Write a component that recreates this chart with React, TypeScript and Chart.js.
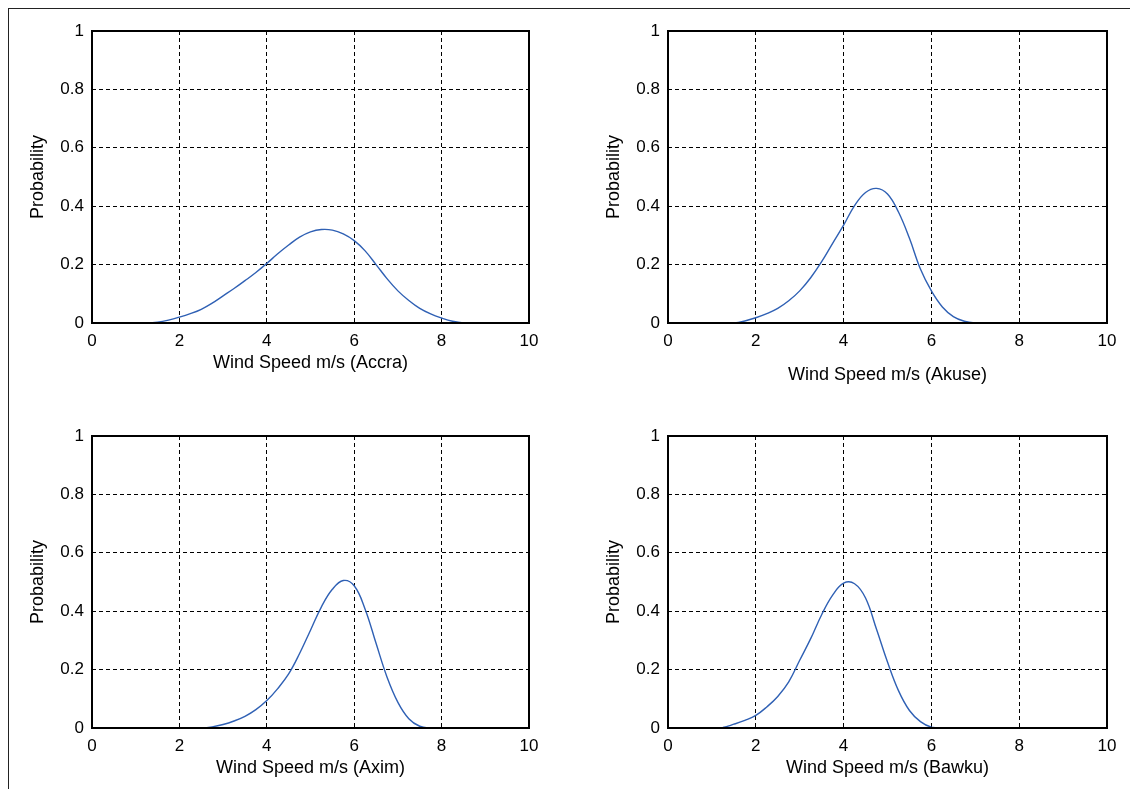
import React, { useEffect, useRef } from "react";
import { Chart, registerables } from "chart.js";

Chart.register(...registerables);

const windSpeed = [
  0, 0.25, 0.5, 0.75, 1, 1.25, 1.5, 1.75, 2, 2.25, 2.5, 2.75, 3, 3.25, 3.5, 3.75, 4, 4.25, 4.5, 4.75,
  5, 5.25, 5.5, 5.75, 6, 6.25, 6.5, 6.75, 7, 7.25, 7.5, 7.75, 8, 8.25, 8.5, 8.75, 9, 9.25, 9.5, 9.75, 10,
];

const accra = [
  0, 0, 0, 0, 0, 0, 0.003, 0.01, 0.02, 0.032, 0.047, 0.068, 0.093, 0.118, 0.145, 0.173, 0.204, 0.237, 0.267, 0.294,
  0.312, 0.32, 0.318, 0.305, 0.282, 0.247, 0.2, 0.152, 0.11, 0.077, 0.05, 0.031, 0.017, 0.006, 0, 0, 0, 0, 0, 0, 0,
];

const akuse = [
  0, 0, 0, 0, 0, 0, 0, 0.007, 0.018, 0.032, 0.05, 0.076, 0.11, 0.155, 0.21, 0.273, 0.335, 0.402, 0.447, 0.461,
  0.442, 0.38, 0.29, 0.185, 0.11, 0.055, 0.022, 0.006, 0, 0, 0, 0, 0, 0, 0, 0, 0, 0, 0, 0, 0,
];

const axim = [
  0, 0, 0, 0, 0, 0, 0, 0, 0, 0, 0, 0.004, 0.012, 0.024, 0.04, 0.063, 0.094, 0.135, 0.185, 0.255,
  0.335, 0.415, 0.475, 0.505, 0.487, 0.407, 0.29, 0.175, 0.088, 0.032, 0.006, 0, 0, 0, 0, 0, 0, 0, 0, 0, 0,
];

const bawku = [
  0, 0, 0, 0, 0, 0.002, 0.013, 0.026, 0.043, 0.072, 0.108, 0.158, 0.232, 0.306, 0.388, 0.455, 0.496, 0.494, 0.445, 0.338,
  0.226, 0.128, 0.06, 0.022, 0.003, 0, 0, 0, 0, 0, 0, 0, 0, 0, 0, 0, 0, 0, 0, 0, 0,
];

const xTicks = [0, 2, 4, 6, 8, 10];
const yTicks = [0, 0.2, 0.4, 0.6, 0.8, 1];
const stations = ["Accra", "Akuse", "Axim", "Bawku"];
const yTitle = "Probability";
const xTitlePrefix = "Wind Speed m/s";

const FONT = "'Liberation Sans', Arial, sans-serif";
const LINE_COLOR = "#2f60b4";

const framePlugin = {
  id: "frame",
  afterDatasetsDraw(chart: any) {
    const { ctx, chartArea } = chart;
    ctx.save();
    ctx.strokeStyle = "#000";
    ctx.lineWidth = 2;
    ctx.setLineDash([]);
    ctx.strokeRect(chartArea.left, chartArea.top, chartArea.right - chartArea.left, chartArea.bottom - chartArea.top);
    ctx.restore();
  },
};

type PanelProps = {
  values: number[];
  station: string;
  left: number;
  top: number;
  width: number;
  height: number;
  padRight: number;
  titlePadBottom: number;
};

function Panel({ values, station, left, top, width, height, padRight, titlePadBottom }: PanelProps) {
  const ref = useRef<HTMLCanvasElement | null>(null);
  useEffect(() => {
    if (!ref.current) return;
    const chart = new Chart(ref.current, {
      type: "line",
      data: {
        datasets: [
          {
            data: windSpeed.map((x, i) => ({ x, y: values[i] })),
            borderColor: LINE_COLOR,
            borderWidth: 1.4,
            pointRadius: 0,
            tension: 0.4,
            fill: false,
            clip: 4,
          },
        ],
      },
      options: {
        animation: false,
        responsive: false,
        maintainAspectRatio: false,
        layout: { padding: { top: 31, right: padRight, left: 0, bottom: 0 } },
        plugins: { legend: { display: false }, tooltip: { enabled: false } },
        scales: {
          x: {
            type: "linear",
            min: 0,
            max: 10,
            afterBuildTicks: (s: any) => {
              s.ticks = xTicks.map((v) => ({ value: v }));
            },
            afterFit: (s: any) => {
              s.height = 72;
            },
            grid: { color: "#000", lineWidth: 1, drawTicks: false },
            border: { display: false, dash: [4, 3] },
            ticks: {
              color: "#000",
              font: { family: FONT, size: 17 },
              padding: 8,
              maxRotation: 0,
              callback: (v: any) => String(Math.round(Number(v) * 10) / 10),
            },
            title: {
              display: true,
              text: `${xTitlePrefix} (${station})`,
              color: "#000",
              font: { family: FONT, size: 18 },
              padding: { top: 0, bottom: titlePadBottom },
            },
          },
          y: {
            type: "linear",
            min: 0,
            max: 1,
            afterBuildTicks: (s: any) => {
              s.ticks = yTicks.map((v) => ({ value: v }));
            },
            afterFit: (s: any) => {
              s.width = 92;
            },
            grid: { color: "#000", lineWidth: 1, drawTicks: false },
            border: { display: false, dash: [4, 3] },
            ticks: {
              color: "#000",
              font: { family: FONT, size: 17 },
              padding: 8,
              callback: (v: any) => String(Math.round(Number(v) * 10) / 10),
            },
            title: {
              display: true,
              text: yTitle,
              color: "#000",
              font: { family: FONT, size: 18 },
              padding: { top: 27, bottom: 0 },
            },
          },
        },
      },
      plugins: [framePlugin],
    } as any);
    return () => chart.destroy();
  }, [values, station, padRight, titlePadBottom]);

  return (
    <canvas
      ref={ref}
      width={width}
      height={height}
      style={{ position: "absolute", left, top, width, height }}
    />
  );
}

export default function App() {
  return (
    <div
      style={{
        position: "absolute",
        left: 0,
        top: 0,
        width: 1130,
        height: 789,
        overflow: "hidden",
        background: "#fff",
      }}
    >
      <div
        style={{
          position: "absolute",
          left: 8,
          top: 8,
          width: 1140,
          height: 800,
          borderLeft: "1px solid #222",
          borderTop: "1px solid #222",
        }}
      />
      <Panel values={accra} station={stations[0]} left={0} top={0} width={565} height={395} padRight={36} titlePadBottom={21} />
      <Panel values={akuse} station={stations[1]} left={576} top={0} width={554} height={395} padRight={23} titlePadBottom={9} />
      <Panel values={axim} station={stations[2]} left={0} top={405} width={565} height={395} padRight={36} titlePadBottom={21} />
      <Panel values={bawku} station={stations[3]} left={576} top={405} width={554} height={395} padRight={23} titlePadBottom={21} />
    </div>
  );
}
